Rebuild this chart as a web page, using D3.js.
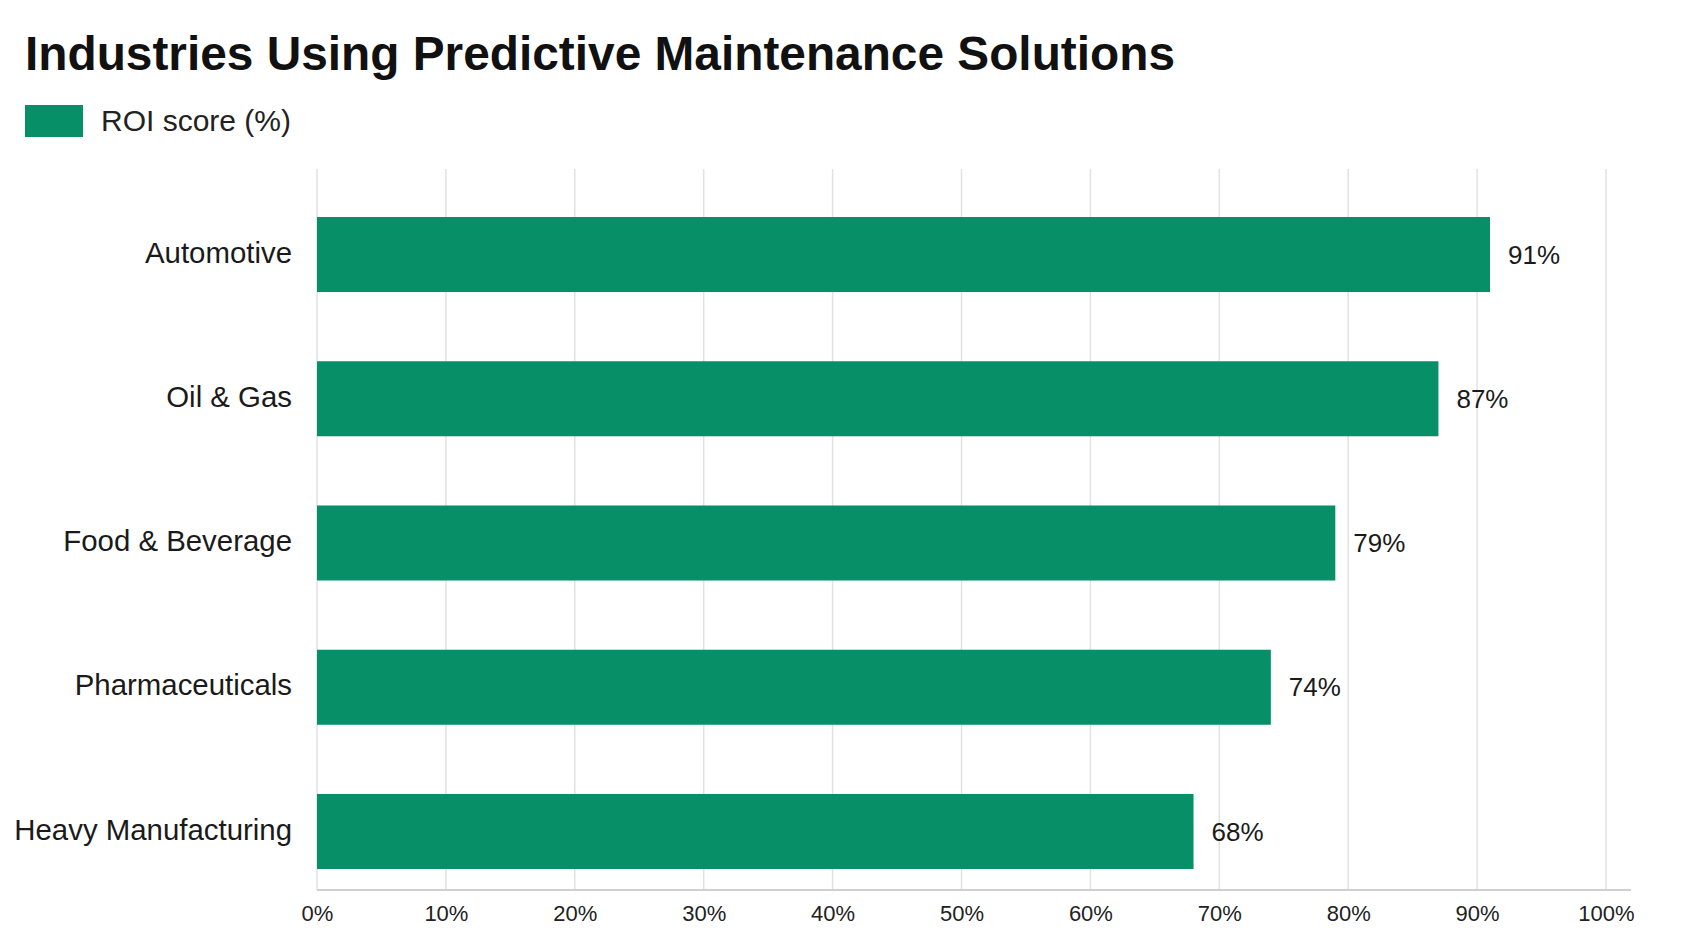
<!DOCTYPE html>
<html>
<head>
<meta charset="utf-8">
<script src="https://cdn.jsdelivr.net/npm/d3@7"></script>
<style>
  html, body { margin: 0; padding: 0; background: #ffffff; }
  svg { display: block; font-family: "Liberation Sans", Arial, Helvetica, sans-serif; }
</style>
</head>
<body>
<svg id="chart" width="1690" height="931"></svg>
<script>
const categories = ["Automotive", "Oil & Gas", "Food & Beverage", "Pharmaceuticals", "Heavy Manufacturing"];
const roiValues = [91, 87, 79, 74, 68];
const tickValues = [0, 10, 20, 30, 40, 50, 60, 70, 80, 90, 100];
const titleText = "Industries Using Predictive Maintenance Solutions";
const legendLabel = "ROI score (%)";

const data = categories.map((c, i) => ({ category: c, value: roiValues[i] }));

const svg = d3.select("#chart");
const green = "#078f67";

const x = d3.scaleLinear().domain([0, 100]).range([317, 1606]);
const y = d3.scaleBand().domain(categories).range([182.4, 903.6]).paddingInner(0.48).paddingOuter(0.24);

const gridTop = 169, axisY = 890;

// title
svg.append("text")
  .attr("x", 25).attr("y", 70)
  .attr("font-size", 47.8).attr("font-weight", "bold").attr("fill", "#111")
  .text(titleText);

// legend
svg.append("rect").attr("x", 25).attr("y", 105).attr("width", 58).attr("height", 32).attr("fill", green);
svg.append("text").attr("x", 101).attr("y", 120).attr("dy", "0.35em")
  .attr("font-size", 30).attr("fill", "#222").text(legendLabel);

// gridlines
svg.append("g").selectAll("line").data(tickValues).join("line")
  .attr("x1", d => x(d)).attr("x2", d => x(d))
  .attr("y1", gridTop).attr("y2", axisY)
  .attr("stroke", "#e2e2e2").attr("stroke-width", 1.5);

// bottom axis
const xAxis = d3.axisBottom(x).tickValues(tickValues).tickFormat(d => d + "%").tickSize(0).tickPadding(15);
const gx = svg.append("g").attr("transform", `translate(0,${axisY})`).call(xAxis);
gx.select(".domain").attr("d", `M${x(0)},0H1631`).attr("stroke", "#d0d0d0").attr("stroke-width", 2);
gx.selectAll(".tick text").attr("font-size", 22).attr("fill", "#222")
  .attr("font-family", '"Liberation Sans", Arial, sans-serif');

// bars
svg.append("g").selectAll("rect").data(data).join("rect")
  .attr("x", x(0)).attr("y", d => y(d.category))
  .attr("width", d => x(d.value) - x(0)).attr("height", y.bandwidth())
  .attr("fill", green);

// category labels
const yAxis = d3.axisLeft(y).tickSize(0).tickPadding(25);
const gy = svg.append("g").attr("transform", `translate(${x(0)},0)`).call(yAxis);
gy.select(".domain").remove();
gy.selectAll(".tick text").attr("font-size", 29.4).attr("fill", "#1a1a1a").attr("dy", "0.28em")
  .attr("font-family", '"Liberation Sans", Arial, sans-serif');

// value labels
svg.append("g").selectAll("text").data(data).join("text")
  .attr("x", d => x(d.value) + 18)
  .attr("y", d => y(d.category) + y.bandwidth() / 2)
  .attr("dy", "0.35em")
  .attr("font-size", 26).attr("fill", "#1a1a1a")
  .text(d => d.value + "%");
</script>
</body>
</html>
